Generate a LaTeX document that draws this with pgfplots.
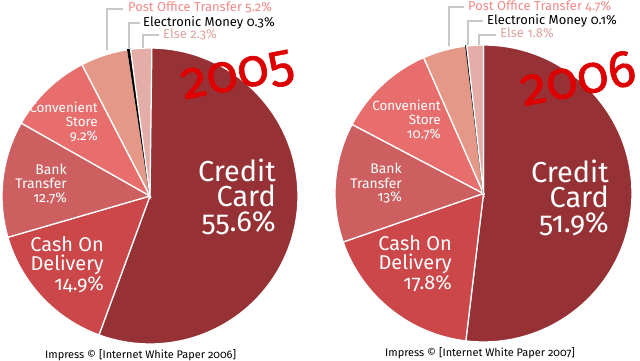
\documentclass[border=0pt]{standalone}
\usepackage{pgfplots}
\pgfplotsset{compat=1.18}
\usepackage{fontspec}
\setmainfont{Fira Sans}[Numbers=OldStyle]

\definecolor{cc}{RGB}{150,50,53}
\definecolor{cod}{RGB}{203,71,73}
\definecolor{bt}{RGB}{205,95,96}
\definecolor{cs}{RGB}{232,110,110}
\definecolor{po}{RGB}{230,152,136}
\definecolor{em}{RGB}{0,0,0}
\definecolor{el}{RGB}{228,173,167}
\definecolor{potxt}{RGB}{244,137,137}
\definecolor{eltxt}{RGB}{220,163,158}
\definecolor{leader}{RGB}{200,200,200}
\definecolor{yeartxt}{RGB}{222,0,0}

% value / fill colour / border colour, clockwise from 12 o'clock
\def\dataA{55.6/cc/white,14.9/cod/white,12.7/bt/white,9.2/cs/white,5.2/po/white,0.3/em/black,2.3/el/white}
\def\dataB{51.9/cc/white,17.8/cod/white,13/bt/white,10.7/cs/white,4.7/po/white,0.1/em/black,1.8/el/white}

\newcommand\makepie[5]{%
  \xdef\acc{0}\gdef\tmpcmds{}%
  \foreach \v/\col/\bd in #5{%
    \pgfmathsetmacro\sa{90-\acc*3.6}%
    \pgfmathsetmacro\ea{90-(\acc+\v)*3.6}%
    \xdef\tmpcmds{\unexpanded\expandafter{\tmpcmds}\noexpand\fill[\col,draw=\bd,line width=1.3bp] (axis cs:#2,#3) -- ++(\sa:#4bp) arc[start angle=\sa,end angle=\ea,radius=#4bp] -- cycle;}%
    \pgfmathsetmacro\newacc{\acc+\v}\xdef\acc{\newacc}%
  }%
  \global\expandafter\let\csname #1\endcsname\tmpcmds
}
\makepie{pieA}{150}{165}{148}{\dataA}
\makepie{pieB}{483.5}{167.5}{148.5}{\dataB}

% one text line: x, y (image coords, y downward), font size, colour, anchor, text
\newcommand\lbl[6]{\node[anchor=#5,inner sep=0pt,text=#4,font=\fontsize{#3}{#3}\selectfont] at (axis cs:#1,361-#2) {#6};}

\begin{document}
\begin{tikzpicture}
\useasboundingbox (0,0) rectangle (640bp,361bp);
\begin{axis}[
  at={(0,0)}, anchor=south west,
  width=640bp, height=361bp, scale only axis,
  xmin=0, xmax=640, ymin=0, ymax=361,
  hide axis, clip=false]
\pieA
\pieB
% leader lines 2005
\draw[leader,line width=1.6bp] (axis cs:107,361-50) |- (axis cs:123,361-9);
\draw[leader,line width=1.6bp] (axis cs:129,361-48) |- (axis cs:140,361-23);
\draw[leader,line width=1.6bp] (axis cs:143,361-48) |- (axis cs:159,361-35);
% leader lines 2006
\draw[leader,line width=1.6bp] (axis cs:449,361-46) |- (axis cs:464,361-7);
\draw[leader,line width=1.6bp] (axis cs:468,361-45) |- (axis cs:483,361-21);
\draw[leader,line width=1.6bp] (axis cs:479,361-45) |- (axis cs:496,361-35);
% outside labels 2005
\lbl{128}{12}{13}{potxt}{base west}{Post Office Transfer 5.2\%}
\lbl{143}{27}{13}{black}{base west}{Electronic Money 0.3\%}
\lbl{163}{39}{13}{eltxt}{base west}{Else 2.3\%}
% outside labels 2006
\lbl{468}{11}{13}{potxt}{base west}{Post Office Transfer 4.7\%}
\lbl{487}{25}{13}{black}{base west}{Electronic Money 0.1\%}
\lbl{500}{38}{13}{eltxt}{base west}{Else 1.8\%}
% inside labels 2005
\lbl{276}{182}{29}{white}{base east}{Credit}
\lbl{276}{207}{29}{white}{base east}{Card}
\lbl{276}{232}{29}{white}{base east}{55.6\%}
\lbl{104}{252}{20}{white}{base east}{Cash On}
\lbl{104}{271}{20}{white}{base east}{Delivery}
\lbl{104}{291}{20}{white}{base east}{14.9\%}
\lbl{67}{175}{14}{white}{base east}{Bank}
\lbl{67}{189}{14}{white}{base east}{Transfer}
\lbl{67}{203}{14}{white}{base east}{12.7\%}
\lbl{98}{113}{13.5}{white}{base east}{Convenient}
\lbl{98}{127}{13.5}{white}{base east}{Store}
\lbl{98}{141}{13.5}{white}{base east}{9.2\%}
% inside labels 2006
\lbl{609}{183}{29}{white}{base east}{Credit}
\lbl{609}{208}{29}{white}{base east}{Card}
\lbl{609}{233}{29}{white}{base east}{51.9\%}
\lbl{452}{251}{20}{white}{base east}{Cash On}
\lbl{452}{270}{20}{white}{base east}{Delivery}
\lbl{452}{290}{20}{white}{base east}{17.8\%}
\lbl{402}{174}{14}{white}{base east}{Bank}
\lbl{402}{189}{14}{white}{base east}{Transfer}
\lbl{402}{202}{14}{white}{base east}{13\%}
\lbl{441}{111}{13.5}{white}{base east}{Convenient}
\lbl{441}{125}{13.5}{white}{base east}{Store}
\lbl{441}{139}{13.5}{white}{base east}{10.7\%}
% year labels
\node[rotate=11,inner sep=0pt,text=yeartxt,font=\fontsize{52}{52}\selectfont\addfontfeature{FakeBold=1.2}] at (axis cs:238,361-77) {2005};
\node[rotate=11,inner sep=0pt,text=yeartxt,font=\fontsize{52}{52}\selectfont\addfontfeature{FakeBold=1.2}] at (axis cs:578,361-78) {2006};
% sources
\lbl{45}{358}{11}{black}{base west}{Impress © [Internet White Paper 2006]}
\lbl{385}{356}{11}{black}{base west}{Impress © [Internet White Paper 2007]}
\end{axis}
\end{tikzpicture}
\end{document}
